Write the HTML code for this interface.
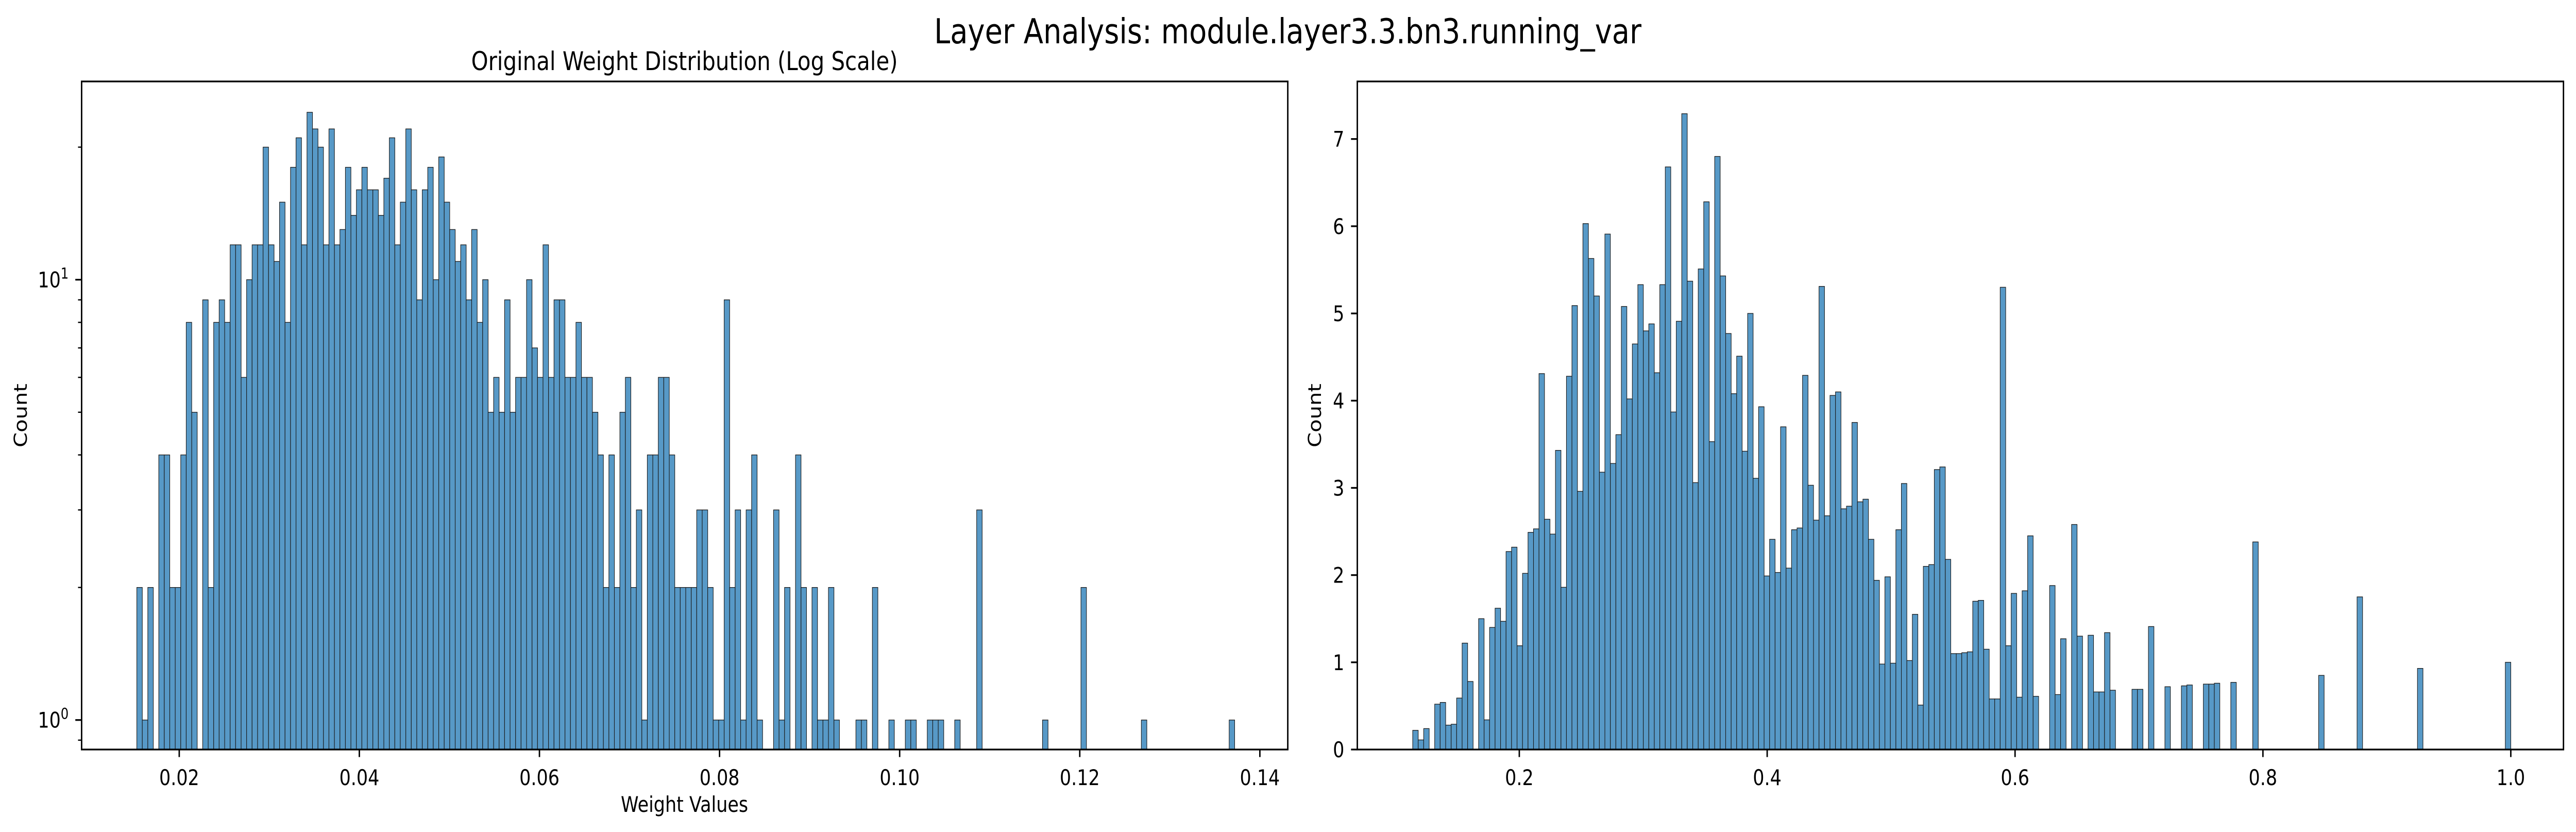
<!DOCTYPE html>
<html><head><meta charset="utf-8"><style>
html,body{margin:0;padding:0;background:#fff;overflow:hidden;width:100%;height:100%;}
svg{display:block;width:100vw;height:100vh;font-family:"DejaVu Sans","Liberation Sans",sans-serif;}
</style></head><body>
<svg id="fig" viewBox="0 0 5965 1614" preserveAspectRatio="none" xmlns="http://www.w3.org/2000/svg">
<rect x="0" y="0" width="5965" height="1614" fill="#fff"/>
<text x="2982" y="84" font-size="66.7" text-anchor="middle">Layer Analysis: module.layer3.3.bn3.running_var</text>
<text x="1585" y="136" font-size="50" text-anchor="middle">Original Weight Distribution (Log Scale)</text>
<text x="1585" y="1575" font-size="41.7" text-anchor="middle">Weight Values</text>
<text x="62" y="806" font-size="41.7" text-anchor="middle" transform="rotate(-90 62 806)">Count</text>
<text x="3059" y="806" font-size="41.7" text-anchor="middle" transform="rotate(-90 3059 806)">Count</text>
<g id="left"></g>
<g id="right"></g>
</svg>
<script>
// ---- data ----
const leftBinRange = [0.01529, 0.1372];
const leftCounts = [
2,1,2,0,4,4,2,2,4,8, 5,0,9,2,8,9,8,12,12,6, 10,12,12,20,12,11,15,8,18,21, 12,24,22,20,12,22,12,13,18,14, 16,18,16,16,14,17,21,12,15,22,
16,9,16,18,10,19,15,13,11,12, 9,13,8,10,5,6,5,9,5,6, 6,10,7,6,12,6,9,9,6,6, 8,6,6,5,4,2,4,2,5,6, 2,3,1,4,4,6,6,4,2,2,
2,2,3,3,2,1,1,9,2,3, 1,3,4,1,0,0,3,1,2,0, 4,2,0,2,1,1,2,1,0,0, 0,1,1,0,2,0,0,1,0,0, 1,1,0,0,1,1,1,0,0,1,
0,0,0,3,0,0,0,0,0,0, 0,0,0,0,0,1,0,0,0,0, 0,0,2,0,0,0,0,0,0,0, 0,0,0,1,0,0,0,0,0,0, 0,0,0,0,0,0,0,0,0,1];
const leftXTicks = [0.02,0.04,0.06,0.08,0.10,0.12,0.14];
const leftXTickLabels = ["0.02","0.04","0.06","0.08","0.10","0.12","0.14"];
const leftYMajor = [1,10];
const leftYMajorExp = ["0","1"];
const leftYMinor = [0.9,2,3,4,5,6,7,8,9,20];

const rightBinRange = [0.1140, 1.0];
const rightValues = [
0.22,0.11,0.24,0,0.52,0.54,0.28,0.29,0.59,1.22, 0.78,0,1.50,0.34,1.40,1.62,1.47,2.27,2.32,1.19, 2.02,2.49,2.53,4.31,2.64,2.47,3.43,1.86,4.28,5.09, 2.96,6.03,5.63,5.20,3.18,5.91,3.28,3.61,5.08,4.02, 4.65,5.33,4.80,4.88,4.32,5.33,6.68,3.87,4.91,7.29,
5.37,3.06,5.51,6.28,3.53,6.80,5.43,4.77,4.08,4.51, 3.42,5.00,3.11,3.93,1.99,2.41,2.03,3.70,2.08,2.52, 2.54,4.29,3.03,2.63,5.31,2.68,4.06,4.10,2.76,2.79, 3.75,2.84,2.87,2.41,1.94,0.98,1.98,0.99,2.52,3.05, 1.02,1.55,0.51,2.10,2.12,3.21,3.24,2.18,1.10,1.10,
1.11,1.12,1.70,1.71,1.15,0.58,0.58,5.30,1.19,1.79, 0.60,1.82,2.45,0.61,0,0,1.88,0.63,1.27,0, 2.58,1.30,0,1.31,0.66,0.66,1.34,0.68,0,0, 0,0.69,0.69,0,1.41,0,0,0.72,0,0, 0.73,0.74,0,0,0.75,0.75,0.76,0,0,0.77,
0,0,0,2.38,0,0,0,0,0,0, 0,0,0,0,0,0.85,0,0,0,0, 0,0,1.75,0,0,0,0,0,0,0, 0,0,0,0.93,0,0,0,0,0,0, 0,0,0,0,0,0,0,0,0,1.00];
const rightXTicks = [0.2,0.4,0.6,0.8,1.0];
const rightXTickLabels = ["0.2","0.4","0.6","0.8","1.0"];
const rightYTicks = [0,1,2,3,4,5,6,7];
const rightYTickLabels = ["0","1","2","3","4","5","6","7"];

// ---- rendering ----
const NS = "http://www.w3.org/2000/svg";
function mk(parent, tag, attrs){ const e=document.createElementNS(NS,tag); for(const k in attrs) e.setAttribute(k,attrs[k]); parent.appendChild(e); return e; }
const TOP=158, BOT=1454;
const BAR_FILL="#5799c7", EDGE="#1a1a1a";

(function(){
  const g=document.getElementById('left');
  const L=189, R=2982, xmin=0.00916, xmax=0.1431;
  const lmin=Math.log10(0.857), lmax=Math.log10(28.2);
  const xs=v=>L+(v-xmin)/(xmax-xmin)*(R-L);
  const ys=v=>BOT-(Math.log10(v)-lmin)/(lmax-lmin)*(BOT-TOP);
  const n=leftCounts.length, w=(leftBinRange[1]-leftBinRange[0])/n;
  leftCounts.forEach((c,i)=>{
    if(c<=0) return;
    const x0=xs(leftBinRange[0]+i*w), x1=xs(leftBinRange[0]+(i+1)*w);
    const r=mk(g,'rect',{x:x0,y:ys(c),width:x1-x0,height:BOT-ys(c),fill:BAR_FILL,stroke:EDGE,'stroke-width':1.3});
    
    
  });
  leftXTicks.forEach((t,i)=>{
    const x=xs(t);
    const l=mk(g,'line',{x1:x,x2:x,y1:BOT,y2:BOT+14.6,stroke:'#000','stroke-width':3.3});
    
    
    const tx=mk(g,'text',{x:x,y:1523,'font-size':41.7,'text-anchor':'middle'});
    tx.textContent=leftXTickLabels[i];
    
    
  });
  leftYMinor.forEach(t=>{
    const y=ys(t);
    const l=mk(g,'line',{x1:L-8.3,x2:L,y1:y,y2:y,stroke:'#000','stroke-width':2.5});
    
    
  });
  leftYMajor.forEach((t,i)=>{
    const y=ys(t);
    const l=mk(g,'line',{x1:L-14.6,x2:L,y1:y,y2:y,stroke:'#000','stroke-width':3.3});
    
    
    const tx=mk(g,'text',{x:L-30,y:y+15,'font-size':41.7,'text-anchor':'end'});
    
    
    const a=document.createElementNS(NS,'tspan'); a.textContent='10'; tx.appendChild(a);
    const b=document.createElementNS(NS,'tspan'); b.setAttribute('font-size','29'); b.setAttribute('dy','-17'); b.textContent=leftYMajorExp[i]; tx.appendChild(b);
  });
  const f=mk(g,'rect',{x:L,y:TOP,width:R-L,height:BOT-TOP,fill:'none',stroke:'#000','stroke-width':3.3});
  
  
})();

(function(){
  const g=document.getElementById('right');
  const L=3143, R=5936, xmin=0.0693, xmax=1.0425, ymin=0, ymax=7.66;
  const xs=v=>L+(v-xmin)/(xmax-xmin)*(R-L);
  const ys=v=>BOT-(v-ymin)/(ymax-ymin)*(BOT-TOP);
  const n=rightValues.length, w=(rightBinRange[1]-rightBinRange[0])/n;
  rightValues.forEach((c,i)=>{
    if(c<=0) return;
    const x0=xs(rightBinRange[0]+i*w), x1=xs(rightBinRange[0]+(i+1)*w);
    const r=mk(g,'rect',{x:x0,y:ys(c),width:x1-x0,height:BOT-ys(c),fill:BAR_FILL,stroke:EDGE,'stroke-width':1.3});
    
    
  });
  rightXTicks.forEach((t,i)=>{
    const x=xs(t);
    const l=mk(g,'line',{x1:x,x2:x,y1:BOT,y2:BOT+14.6,stroke:'#000','stroke-width':3.3});
    
    
    const tx=mk(g,'text',{x:x,y:1523,'font-size':41.7,'text-anchor':'middle'});
    tx.textContent=rightXTickLabels[i];
    
    
  });
  rightYTicks.forEach((t,i)=>{
    const y=ys(t);
    const l=mk(g,'line',{x1:L-14.6,x2:L,y1:y,y2:y,stroke:'#000','stroke-width':3.3});
    
    
    const tx=mk(g,'text',{x:L-30,y:y+15,'font-size':41.7,'text-anchor':'end'});
    tx.textContent=rightYTickLabels[i];
    
    
  });
  const f=mk(g,'rect',{x:L,y:TOP,width:R-L,height:BOT-TOP,fill:'none',stroke:'#000','stroke-width':3.3});
  
  
})();
</script>
</body></html>
